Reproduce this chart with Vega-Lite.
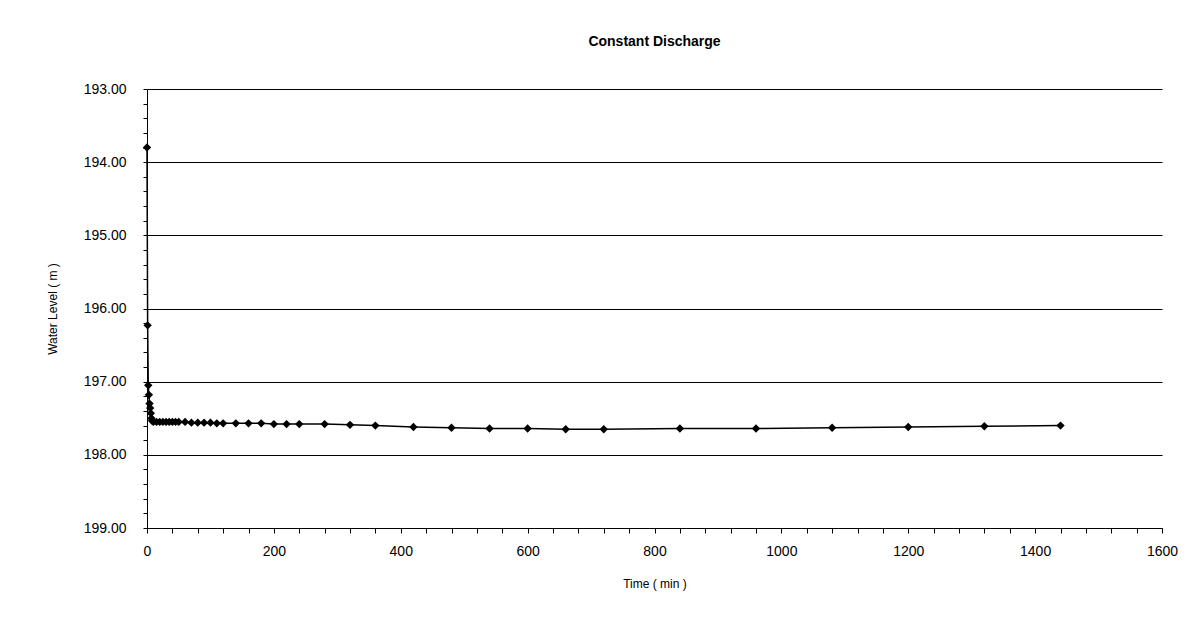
{
  "$schema": "https://vega.github.io/schema/vega-lite/v6.json",
  "autosize": "none",
  "width": 1015,
  "height": 439,
  "padding": {"left": 147, "top": 89, "right": 40, "bottom": 103},
  "background": "white",
  "title": {"text": "Constant Discharge", "font": "Liberation Sans", "fontSize": 14, "fontWeight": "bold", "color": "black", "offset": 33, "anchor": "middle"},
  "data": {"values": [
    {"time": 0, "level": 193.80},
    {"time": 1, "level": 196.23},
    {"time": 2, "level": 197.05},
    {"time": 3, "level": 197.18},
    {"time": 4, "level": 197.30},
    {"time": 5, "level": 197.36},
    {"time": 6, "level": 197.43},
    {"time": 7, "level": 197.50},
    {"time": 8, "level": 197.53},
    {"time": 9, "level": 197.54},
    {"time": 10, "level": 197.55},
    {"time": 15, "level": 197.55},
    {"time": 20, "level": 197.55},
    {"time": 25, "level": 197.55},
    {"time": 30, "level": 197.55},
    {"time": 35, "level": 197.55},
    {"time": 40, "level": 197.55},
    {"time": 45, "level": 197.55},
    {"time": 50, "level": 197.55},
    {"time": 60, "level": 197.55},
    {"time": 70, "level": 197.56},
    {"time": 80, "level": 197.56},
    {"time": 90, "level": 197.56},
    {"time": 100, "level": 197.56},
    {"time": 110, "level": 197.57},
    {"time": 120, "level": 197.57},
    {"time": 140, "level": 197.57},
    {"time": 160, "level": 197.57},
    {"time": 180, "level": 197.57},
    {"time": 200, "level": 197.58},
    {"time": 220, "level": 197.58},
    {"time": 240, "level": 197.58},
    {"time": 280, "level": 197.58},
    {"time": 320, "level": 197.59},
    {"time": 360, "level": 197.60},
    {"time": 420, "level": 197.62},
    {"time": 480, "level": 197.63},
    {"time": 540, "level": 197.64},
    {"time": 600, "level": 197.64},
    {"time": 660, "level": 197.65},
    {"time": 720, "level": 197.65},
    {"time": 840, "level": 197.64},
    {"time": 960, "level": 197.64},
    {"time": 1080, "level": 197.63},
    {"time": 1200, "level": 197.62},
    {"time": 1320, "level": 197.61},
    {"time": 1440, "level": 197.60}
  ]},
  "encoding": {
    "x": {
      "field": "time", "type": "quantitative",
      "scale": {"domain": [0, 1600], "nice": false},
      "axis": {
        "title": "Time ( min )",
        "values": [0,40,80,120,160,200,240,280,320,360,400,440,480,520,560,600,640,680,720,760,800,840,880,920,960,1000,1040,1080,1120,1160,1200,1240,1280,1320,1360,1400,1440,1480,1520,1560,1600],
        "labelExpr": "datum.value % 200 === 0 ? format(datum.value, 'd') : ''",
        "grid": false,
        "domainColor": "black",
        "tickColor": "black",
        "tickSize": 5,
        "labelFont": "Liberation Sans",
        "labelFontSize": 14,
        "labelColor": "black",
        "labelPadding": 11,
        "labelFlush": false,
        "titleFont": "Liberation Sans",
        "titleFontSize": 12,
        "titleFontWeight": "normal",
        "titleColor": "black",
        "titlePadding": 20
      }
    },
    "y": {
      "field": "level", "type": "quantitative",
      "scale": {"domain": [193, 199], "reverse": true, "nice": false, "zero": false},
      "axis": {
        "title": "Water Level ( m )",
        "values": [193,193.2,193.4,193.6,193.8,194,194.2,194.4,194.6,194.8,195,195.2,195.4,195.6,195.8,196,196.2,196.4,196.6,196.8,197,197.2,197.4,197.6,197.8,198,198.2,198.4,198.6,198.8,199],
        "labelExpr": "abs(datum.value - round(datum.value)) < 0.01 ? format(datum.value, '.2f') : ''",
        "grid": true,
        "gridColor": "black",
        "gridWidth": 1,
        "gridOpacity": {"condition": {"test": "abs(datum.value - round(datum.value)) > 0.01", "value": 0}, "value": 1},
        "domainColor": "black",
        "tickColor": "black",
        "tickSize": 4,
        "labelFont": "Liberation Sans",
        "labelFontSize": 14,
        "labelColor": "black",
        "labelPadding": 17,
        "titleFont": "Liberation Sans",
        "titleFontSize": 12,
        "titleFontWeight": "normal",
        "titleColor": "black",
        "titlePadding": 24
      }
    }
  },
  "layer": [
    {"mark": {"type": "line", "color": "black", "strokeWidth": 1.5}},
    {"mark": {"type": "point", "shape": "diamond", "filled": true, "color": "black", "size": 70, "opacity": 1}}
  ],
  "config": {"view": {"stroke": null}}
}
